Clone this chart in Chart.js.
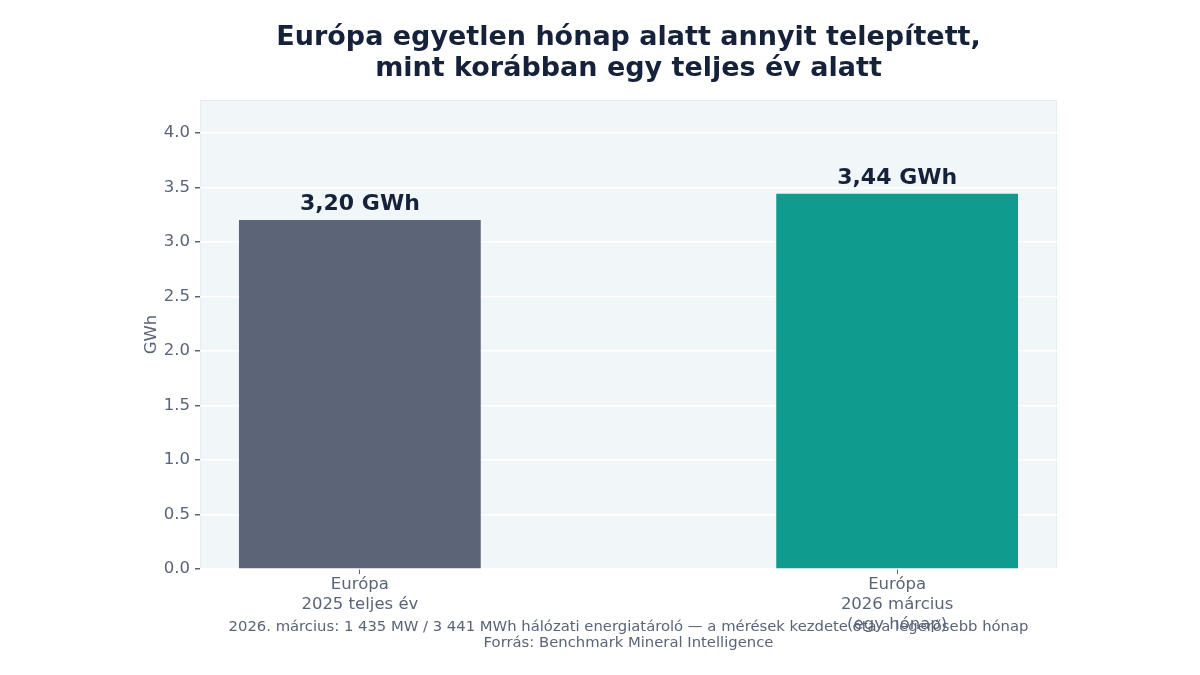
<!DOCTYPE html>
<html>
<head>
<meta charset="utf-8">
<script src="https://cdn.jsdelivr.net/npm/chart.js@4.4.1/dist/chart.umd.min.js"></script>
<style>
  html, body { margin: 0; padding: 0; background: #ffffff; }
  canvas { display: block; }
</style>
</head>
<body>
<canvas id="myChart" width="1200" height="675"></canvas>
<script>
const categories = [
    ['Európa', '2025 teljes év'],
    ['Európa', '2026 március', '(egy hónap)'],
];
const values = [3.20, 3.44];
const valueLabels = ['3,20 GWh', '3,44 GWh'];
const barColors = ['#5b6577', '#0f9b8e'];
const titleLines = ['Európa egyetlen hónap alatt annyit telepített,', 'mint korábban egy teljes év alatt'];
const footerLines = [
    '2026. március: 1 435 MW / 3 441 MWh hálózati energiatároló — a mérések kezdete óta a legerősebb hónap',
    'Forrás: Benchmark Mineral Intelligence',
];

const FONT = "'DejaVu Sans', sans-serif";
const GREY = '#5a6478';
const DARK = '#16213a';

// háttér a rajzterületen
const plotBg = {
    id: 'plotBg',
    beforeDraw(chart) {
        const { ctx, chartArea: a } = chart;
        ctx.save();
        ctx.fillStyle = '#f1f6f9';
        ctx.fillRect(a.left, a.top, a.right - a.left, a.bottom - a.top);
        ctx.strokeStyle = '#e6edf2';
        ctx.lineWidth = 1;
        ctx.strokeRect(a.left + 0.5, a.top + 0.5, a.right - a.left - 1, a.bottom - a.top - 1);
        ctx.restore();
    },
};

// értékcímkék, cím, lábjegyzet
const texts = {
    id: 'texts',
    afterDatasetsDraw(chart) {
        const { ctx } = chart;
        const meta = chart.getDatasetMeta(0);
        ctx.save();
        ctx.fillStyle = DARK;
        ctx.font = `bold 22px ${FONT}`;
        ctx.textAlign = 'center';
        ctx.textBaseline = 'bottom';
        meta.data.forEach((bar, i) => {
            ctx.fillText(valueLabels[i], bar.x, bar.y - 5);
        });
        ctx.restore();
    },
    afterDraw(chart) {
        const { ctx, chartArea: a } = chart;
        const cx = (a.left + a.right) / 2;
        ctx.save();
        ctx.textAlign = 'center';
        ctx.textBaseline = 'middle';
        ctx.fillStyle = DARK;
        ctx.font = `bold 27px ${FONT}`;
        titleLines.forEach((t, i) => ctx.fillText(t, cx, 38 + i * 31));
        ctx.fillStyle = GREY;
        ctx.font = `14.8px ${FONT}`;
        footerLines.forEach((t, i) => ctx.fillText(t, cx, 627 + i * 16.5));
        ctx.restore();
    },
};

const myChart = new Chart(document.querySelector('#myChart'), {
    type: 'bar',
    data: {
        datasets: [
            {
                data: values.map((v, i) => ({ x: i, y: v })),
                backgroundColor: barColors,
                borderWidth: 0,
                barPercentage: 0.45,
                categoryPercentage: 1,
            },
        ],
    },
    options: {
        responsive: false,
        animation: false,
        devicePixelRatio: 1,
        layout: {
            padding: { top: 100, right: 143, bottom: 0, left: 142 },
        },
        scales: {
            x: {
                type: 'linear',
                offset: false,
                min: -0.2975,
                max: 1.2975,
                afterBuildTicks(scale) {
                    scale.ticks = categories.map((c, i) => ({ value: i }));
                },
                afterFit(scale) {
                    scale.height = 106;
                },
                ticks: {
                    callback: (value) => categories[value],
                    color: GREY,
                    font: { family: FONT, size: 16.5, lineHeight: 1.2 },
                    padding: 1,
                    maxRotation: 0,
                    autoSkip: false,
                },
                grid: {
                    offset: false,
                    drawOnChartArea: false,
                    tickLength: 5,
                    tickColor: GREY,
                },
                border: { display: false },
            },
            y: {
                min: 0,
                max: 4.3,
                afterFit(scale) {
                    scale.width = 58;
                },
                ticks: {
                    stepSize: 0.5,
                    includeBounds: false,
                    callback: (value) => value.toFixed(1),
                    color: GREY,
                    font: { family: FONT, size: 16.5 },
                    padding: 5,
                },
                grid: {
                    color: '#ffffff',
                    lineWidth: 1.5,
                    tickLength: 5,
                    tickColor: GREY,
                },
                border: { display: false },
                title: {
                    display: true,
                    text: 'GWh',
                    color: GREY,
                    font: { family: FONT, size: 16.5 },
                    padding: { top: 0, bottom: 0 },
                },
            },
        },
        plugins: {
            legend: { display: false },
            tooltip: { enabled: false },
        },
    },
    plugins: [plotBg, texts],
});
</script>
</body>
</html>
